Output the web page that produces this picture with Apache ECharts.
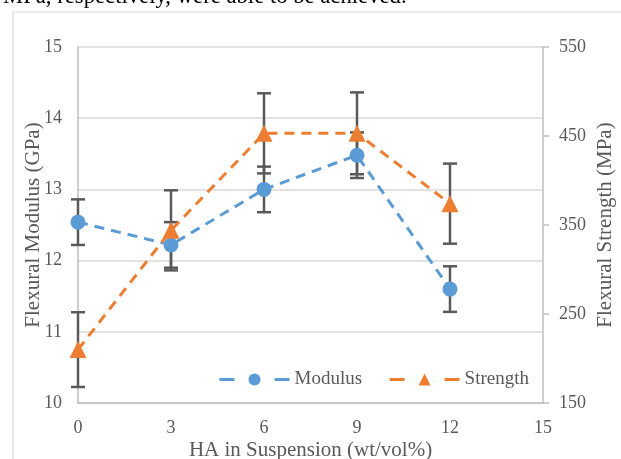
<!DOCTYPE html>
<html>
<head>
<meta charset="utf-8">
<script src="https://cdn.jsdelivr.net/npm/echarts@6/dist/echarts.min.js"></script>
<style>html,body{margin:0;padding:0;background:#fff;}#c{width:621px;height:459px;}</style>
</head>
<body>
<div id="c"></div>
<script>
var xValues = [0, 3, 6, 9, 12];
var modulus = [12.54, 12.22, 13.0, 13.48, 11.6];
var modulusErr = [0.32, 0.32, 0.32, 0.32, 0.32];
var strength = [210, 344, 453, 453, 374];
var strengthErr = [42, 45, 45, 46, 45];

var chart = echarts.init(document.getElementById('c'));
var FONT = 'Liberation Serif';
var TXT = '#595959';

function pairs(ys) { return xValues.map(function (x, i) { return [x, ys[i]]; }); }
function errData(ys, es) { return xValues.map(function (x, i) { return [x, ys[i], es[i]]; }); }

function errRender(params, api) {
  var x = api.value(0), y = api.value(1), e = api.value(2);
  var top = api.coord([x, y + e]);
  var bot = api.coord([x, y - e]);
  var hw = 7;
  var st = { stroke: '#595959', lineWidth: 2.5 };
  return {
    type: 'group',
    children: [
      { type: 'line', shape: { x1: top[0], y1: top[1], x2: bot[0], y2: bot[1] }, style: st },
      { type: 'line', shape: { x1: top[0] - hw, y1: top[1], x2: top[0] + hw, y2: top[1] }, style: st },
      { type: 'line', shape: { x1: bot[0] - hw, y1: bot[1], x2: bot[0] + hw, y2: bot[1] }, style: st }
    ]
  };
}

chart.setOption({
  animation: false,
  textStyle: { fontFamily: FONT },
  graphic: [
    { type: 'rect', shape: { x: 13, y: 12, width: 700, height: 500 }, style: { fill: 'none', stroke: '#d9d9d9', lineWidth: 1.2 }, silent: true },
    { type: 'text', x: 3, y: 9, style: { text: 'MPa, respectively, were able to be achieved.', font: '22.7px "Liberation Serif"', fill: '#000', verticalAlign: 'bottom' } }
  ],
  grid: { left: 78, right: 78, top: 47, bottom: 56, containLabel: false, outerBoundsMode: 'none' },
  legend: {
    left: 218, top: 370, padding: 0,
    itemWidth: 70, itemHeight: 15, itemGap: 26,
    lineStyle: { type: [15, 40], width: 3 },
    textStyle: { fontFamily: FONT, fontSize: 19, color: TXT },
    data: ['Modulus', 'Strength']
  },
  xAxis: {
    type: 'value', min: 0, max: 15, interval: 3,
    name: 'HA in Suspension (wt/vol%)', nameLocation: 'middle', nameGap: 37, nameMoveOverlap: false,
    nameTextStyle: { fontFamily: FONT, fontSize: 21, color: TXT },
    axisLine: { lineStyle: { color: '#bfbfbf', width: 1.5 } },
    axisTick: { show: false },
    axisLabel: { fontFamily: FONT, fontSize: 18, color: TXT, margin: 16 },
    splitLine: { show: false }
  },
  yAxis: [
    {
      type: 'value', min: 10, max: 15, interval: 1,
      name: 'Flexural Modulus (GPa)', nameLocation: 'middle', nameGap: 34, nameMoveOverlap: false,
      nameTextStyle: { fontFamily: FONT, fontSize: 21, color: TXT },
      axisLine: { show: true, lineStyle: { color: '#bfbfbf', width: 1.5 } },
      axisTick: { show: false },
      axisLabel: { fontFamily: FONT, fontSize: 18, color: TXT, margin: 16 },
      splitLine: { lineStyle: { color: '#d9d9d9', width: 1.5 } }
    },
    {
      type: 'value', min: 150, max: 550, interval: 100, position: 'right',
      name: 'Flexural Strength (MPa)', nameLocation: 'middle', nameGap: 52, nameMoveOverlap: false,
      nameTextStyle: { fontFamily: FONT, fontSize: 21, color: TXT },
      axisLine: { show: true, lineStyle: { color: '#bfbfbf', width: 1.5 } },
      axisTick: { show: true, length: 6, lineStyle: { color: '#bfbfbf', width: 1.5 } },
      axisLabel: { fontFamily: FONT, fontSize: 18, color: TXT, margin: 16 },
      splitLine: { show: false }
    }
  ],
  series: [
    {
      type: 'custom', name: 'ModErr', yAxisIndex: 0, renderItem: errRender,
      data: errData(modulus, modulusErr), z: 1, silent: true
    },
    {
      type: 'custom', name: 'StrErr', yAxisIndex: 1, renderItem: errRender,
      data: errData(strength, strengthErr), z: 1, silent: true
    },
    {
      name: 'Modulus', type: 'line', yAxisIndex: 0, data: pairs(modulus),
      symbol: 'circle', symbolSize: 15, z: 3,
      lineStyle: { color: '#5B9BD5', width: 3, type: [10, 7] },
      itemStyle: { color: '#5B9BD5' }
    },
    {
      name: 'Strength', type: 'line', yAxisIndex: 1, data: pairs(strength),
      symbol: 'triangle', symbolSize: 17, z: 4,
      lineStyle: { color: '#ED7D31', width: 3, type: [10, 7] },
      itemStyle: { color: '#ED7D31' }
    }
  ]
});
</script>
</body>
</html>
